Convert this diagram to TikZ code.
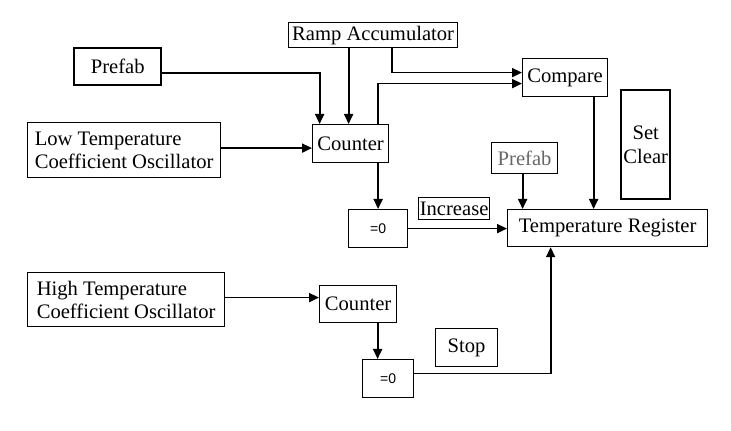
\documentclass[tikz,border=0pt]{standalone}
\usepackage{fontspec}
\setmainfont{Liberation Serif}
\newfontfamily\zerofont{Liberation Sans}
\usetikzlibrary{arrows.meta, positioning, calc}

\tikzset{
  box/.style={draw, line width=0.6pt, anchor=north west, inner sep=0pt,
    font=\fontsize{10.3}{11.6}\selectfont},
  sz/.style 2 args={minimum width=#1*0.5pt, minimum height=#2*0.5pt},
  thickbox/.style={box, line width=1.2pt},
  zero/.style={box, font=\zerofont\fontsize{7}{8}\selectfont},
  arr/.style={line width=0.9pt, -{Triangle[length=5pt,width=4.5pt]}},
}

\begin{document}
\begin{tikzpicture}[x=0.5pt, y=-0.5pt]
  \useasboundingbox (0,0) rectangle (731,431);

  % upper chain
  \node[box, sz={169}{25}] (ramp) at (288,22) {Ramp Accumulator};
  \node[thickbox, sz={87}{37}] (prefab) at (73,47) {Prefab};
  \node[box, sz={76}{38}] (counterA) at (312,124) {Counter};
  \node[box, sz={193}{55}, align=left] (lowosc) at (27,122)
    {Low Temperature\\Coefficient Oscillator};
  \node[box, sz={85}{38}] (compare) at (522,58) {Compare};
  \node[thickbox, sz={49}{109}, align=center] (setclr) at (620,89) {Set\\Clear};
  \node[box, sz={66}{31}, text=black!60] (prefabB) at (491,142) {Prefab};
  \node[zero, sz={59}{38}] (zeroA) at (348,209) {=0};
  \node[box, sz={71}{22}] (incr) at (418,197) {Increase};
  \node[box, sz={200}{37}] (tempreg) at (507,209) {Temperature Register};

  % lower chain
  \node[box, sz={197}{54}, align=left] (highosc) at (27,272)
    {High Temperature\\Coefficient Oscillator};
  \node[box, sz={77}{37}] (counterB) at (319,285) {Counter};
  \node[zero, sz={51}{38}] (zeroB) at (362,359) {=0};
  \node[box, sz={62}{38}] (stop) at (435,328) {Stop};

  % connectors
  \draw[arr] ([yshift=-3pt]prefab.east) -| ([xshift=-15.5pt]counterA.north);
  \draw[arr] ([xshift=-12.25pt]ramp.south) -- ([xshift=-12.25pt]ramp.south |- counterA.north);
  \draw[arr] ([xshift=9.25pt]ramp.south) |- ([yshift=2.5pt]compare.west);
  \draw[arr] ([xshift=13.5pt]counterA.north) |- ([yshift=-3pt]compare.west);
  \draw[arr] ([yshift=1pt]lowosc.east) -- ([yshift=1pt]lowosc.east -| counterA.west);
  \draw[arr] (zeroA.north |- counterA.south) -- (zeroA.north);
  \draw[arr] (zeroA.east) -- (zeroA.east -| tempreg.west);
  \draw[arr] ([xshift=-1pt]prefabB.south) -- ([xshift=-1pt]prefabB.south |- tempreg.north);
  \draw[arr] ([xshift=14.25pt]compare.south) -- ([xshift=14.25pt]compare.south |- tempreg.north);
  \draw[arr] ([yshift=1pt]highosc.east) -- ([yshift=1pt]highosc.east -| counterB.west);
  \draw[arr] ([xshift=9.75pt]counterB.south) -- ([xshift=-5.25pt]zeroB.north);
  \draw[arr] ([yshift=2.5pt]zeroB.east) -| ([xshift=-28.5pt]tempreg.south);
\end{tikzpicture}
\end{document}
